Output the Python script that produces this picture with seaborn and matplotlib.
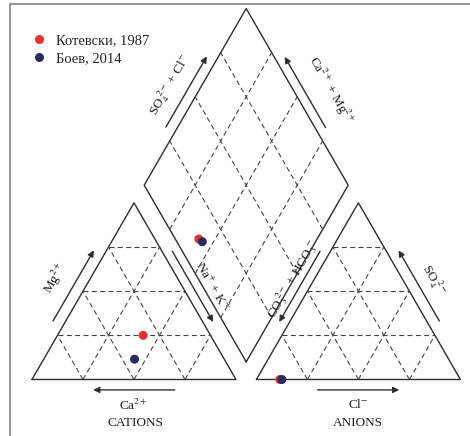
import matplotlib.pyplot as plt
import numpy as np
import pandas as pd
import seaborn as sns

# sample composition in % meq
samples = ['Котевски, 1987', 'Боев, 2014']
colors = ['#e5302d', '#272b5d']
ca = [33, 44]
mg = [25, 11.5]
na_k = [42, 44.5]
hco3 = [88.5, 87.5]
so4 = [0, 0]
cl = [11.5, 12.5]

sns.set_style('white')
plt.rcParams['font.family'] = ['Liberation Serif', 'DejaVu Serif']
plt.rcParams['mathtext.fontset'] = 'stix'

H = np.sqrt(3) / 2
GAP = 0.1
SIDE_PX = 204.0


def px(x, y):
    # picture pixel -> diagram units
    return (x - 32) / SIDE_PX, (379.5 - y) / SIDE_PX


# piper projection
rows = []
for i, name in enumerate(samples):
    cx = na_k[i] / 100 + mg[i] / 200
    cy = mg[i] / 100 * H
    axx = 1 + GAP + cl[i] / 100 + so4[i] / 200
    ayy = so4[i] / 100 * H
    a = na_k[i] / 100
    b = (so4[i] + cl[i]) / 100
    dx = 1 + GAP / 2 - 0.5 * (1 - a) + 0.5 * b
    dy = GAP * H + H * (1 - a) + H * b
    for x, y in [(cx, cy), (axx, ayy), (dx, dy)]:
        rows.append({'x': x, 'y': y, 'sample': name})
points = pd.DataFrame(rows)

fig = plt.figure(figsize=(4.7, 4.36), dpi=100)
ax = fig.add_axes([0, 0, 1, 1])
x0, y0 = px(0, 436)
x1, y1 = px(470, 0)
ax.set_xlim(x0, x1)
ax.set_ylim(y0, y1)
ax.set_aspect('equal')
ax.axis('off')

line_kw = dict(color='#2e2e2e', lw=1.0)
grid_kw = dict(color='#444444', lw=0.8, ls=(0, (4.5, 3)))

# triangles
for ox in [0, 1 + GAP]:
    ax.plot([ox, ox + 1, ox + 0.5, ox], [0, 0, H, 0], **line_kw)
    for f in [0.25, 0.5, 0.75]:
        ax.plot([ox + f / 2, ox + 1 - f / 2], [f * H, f * H], **grid_kw)
        ax.plot([ox + f, ox + f + (1 - f) / 2], [0, (1 - f) * H], **grid_kw)
        ax.plot([ox + f, ox + f / 2], [0, f * H], **grid_kw)

# diamond
B = np.array([1 + GAP / 2, GAP * H])
d1 = np.array([-0.5, H])
d2 = np.array([0.5, H])
L = B + d1
T = B + d1 + d2
R = B + d2
dia = np.array([B, L, T, R, B])
ax.plot(dia[:, 0], dia[:, 1], **line_kw)
for f in [0.25, 0.5, 0.75]:
    p, q = B + f * d2, B + f * d2 + d1
    ax.plot([p[0], q[0]], [p[1], q[1]], **grid_kw)
    p, q = B + f * d1, B + f * d1 + d2
    ax.plot([p[0], q[0]], [p[1], q[1]], **grid_kw)


def edge_arrow(a, b, normal, off, t0, t1):
    a, b, n = np.array(a), np.array(b), np.array(normal)
    s = a + t0 * (b - a) + off * n
    e = a + t1 * (b - a) + off * n
    ax.annotate('', xy=e, xytext=s,
                arrowprops=dict(arrowstyle='-|>', color='#2e2e2e', lw=1.0,
                                mutation_scale=9, shrinkA=0, shrinkB=0))


ox2 = 1 + GAP
edge_arrow((0, 0), (0.5, H), (-H, 0.5), 0.054, 0.3, 0.7)            # Mg
edge_arrow((0, 0), (1, 0), (0, -1), 0.051, 0.7, 0.3)                 # Ca
edge_arrow((1, 0), (0.5, H), (H, 0.5), 0.044, 0.7, 0.3)              # Na+K
edge_arrow((ox2, 0), (ox2 + 0.5, H), (-H, 0.5), 0.044, 0.7, 0.3)     # CO3+HCO3
edge_arrow((ox2 + 1, 0), (ox2 + 0.5, H), (H, 0.5), 0.054, 0.3, 0.7)  # SO4
edge_arrow((ox2, 0), (ox2 + 1, 0), (0, -1), 0.051, 0.3, 0.7)         # Cl
edge_arrow(L, T, (-H, 0.5), 0.05, 0.3, 0.7)                          # SO4+Cl
edge_arrow(R, T, (H, 0.5), 0.045, 0.3, 0.7)                          # Ca+Mg

fs = 9.5
labels = [
    ('Mg$^{2+}$', (55.5, 278), 60),
    ('Ca$^{2+}$', (133, 405), 0),
    ('CATIONS', (135, 423), 0),
    ('Na$^{+}$ + K$^{+}$', (212, 286), -60),
    ('CO$_3^{\\ 2-}$ + HCO$_3^{\\ -}$', (293, 279), 60),
    ('SO$_4^{\\ 2-}$', (433, 280), -60),
    ('Cl$^{-}$', (358, 405), 0),
    ('ANIONS', (358, 423), 0),
    ('SO$_4^{\\ 2-}$ + Cl$^{-}$', (170, 85), 60),
    ('Ca$^{2+}$ + Mg$^{2+}$', (331, 90), -60),
]
for txt, (x, y), rot in labels:
    ax.text(*px(x, y), txt, rotation=rot, ha='center', va='center',
            fontsize=fs, color='#1e1e1e', rotation_mode='anchor')

sns.scatterplot(data=points, x='x', y='y', hue='sample', hue_order=samples,
                palette=colors, s=42, edgecolor='none', ax=ax, legend=True,
                zorder=5)

leg = ax.legend(loc='upper left', bbox_to_anchor=(24 / 470, 1 - 34 / 436),
                frameon=False, fontsize=10.5, handletextpad=0.2,
                labelspacing=0.35, borderaxespad=0, borderpad=0,
                markerscale=1.0)

# frame of the original picture
fx, fy = px(10, 4)
ax.plot([fx, x1], [fy, fy], color='#8c8c8c', lw=1.3, clip_on=False)
ax.plot([fx, fx], [fy, y0], color='#8c8c8c', lw=1.3, clip_on=False)

fig.savefig('out.png', dpi=100)
